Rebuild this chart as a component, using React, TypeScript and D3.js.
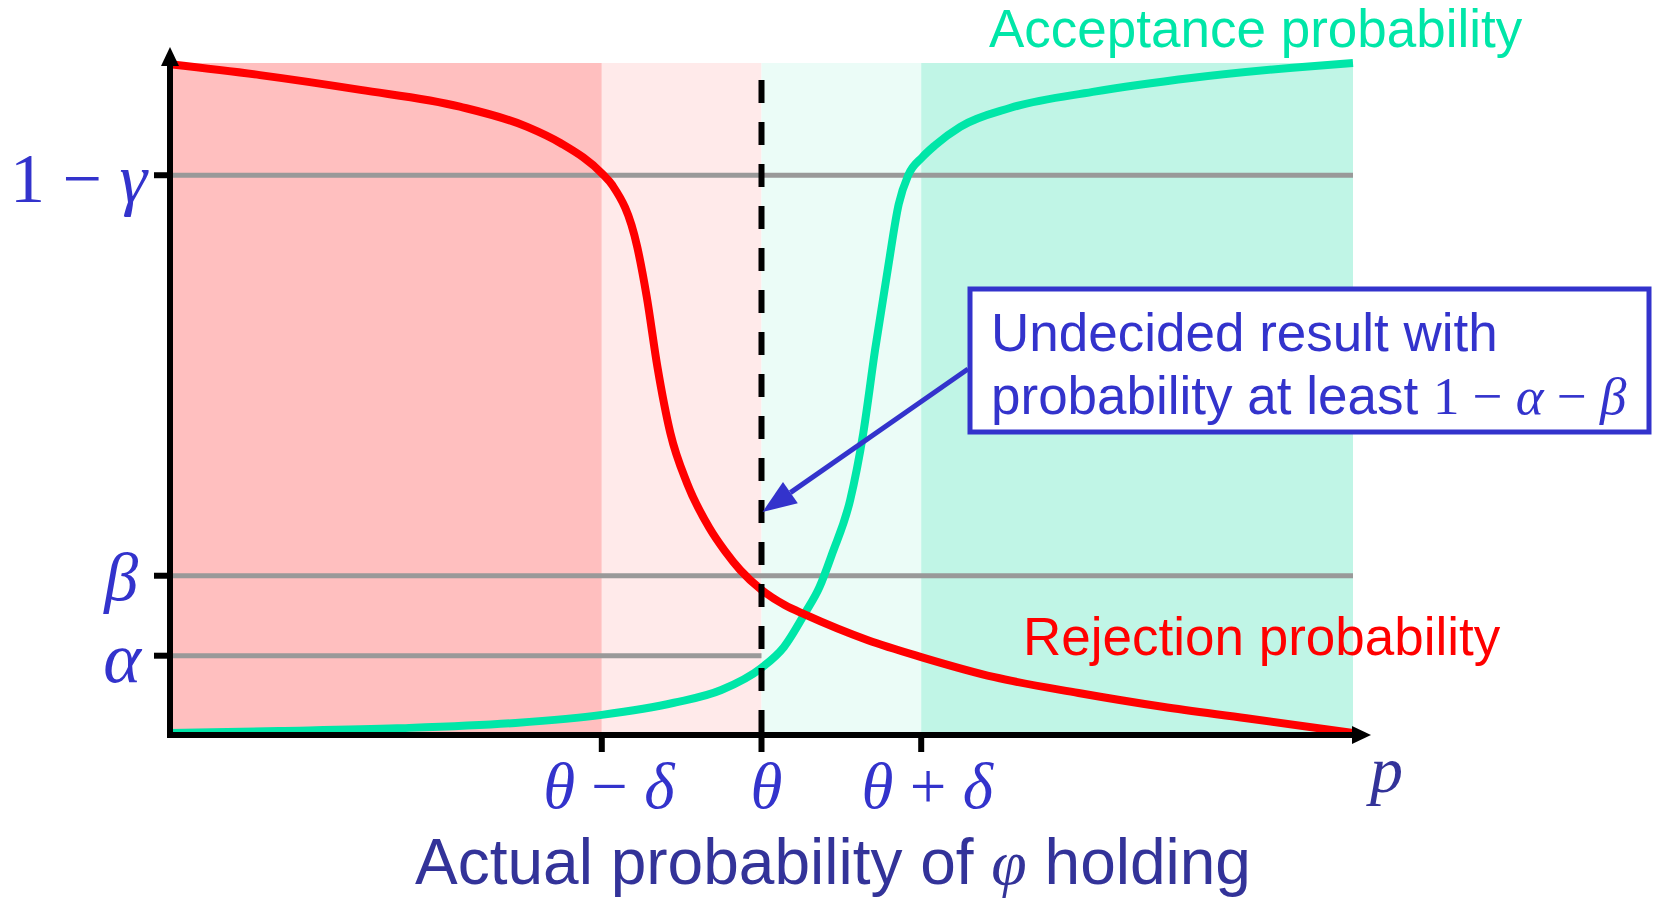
import React from "react";
import * as d3 from "d3";

// thresholds (probability units)
const theta = 0.5;
const delta = 0.135;
const oneMinusGamma = 0.833;
const beta = 0.237;
const alpha = 0.118;

// rejection probability curve: [p, probability]
const rejection: [number, number][] = [
  [0, 0.998], [0.076, 0.982], [0.161, 0.96], [0.245, 0.935], [0.302, 0.905],
  [0.33, 0.881], [0.366, 0.834], [0.374, 0.818], [0.395, 0.726], [0.403, 0.652],
  [0.412, 0.548], [0.423, 0.449], [0.437, 0.375], [0.456, 0.308], [0.469, 0.274],
  [0.482, 0.2455], [0.5, 0.216], [0.52, 0.193], [0.537, 0.179], [0.59, 0.141],
  [0.635, 0.116], [0.697, 0.086], [0.768, 0.0625], [0.839, 0.042], [0.91, 0.025],
  [1, 0.003],
];

// acceptance probability curve
const acceptance: [number, number][] = [
  [0, 0.003], [0.092, 0.006], [0.192, 0.01], [0.292, 0.018], [0.365, 0.03],
  [0.426, 0.048], [0.466, 0.067], [0.5, 0.1], [0.519, 0.131], [0.537, 0.182],
  [0.549, 0.22], [0.56, 0.271], [0.575, 0.35], [0.586, 0.449], [0.596, 0.573],
  [0.607, 0.696], [0.616, 0.79], [0.624, 0.833], [0.636, 0.86], [0.647, 0.878],
  [0.668, 0.905], [0.71, 0.933], [0.78, 0.957], [0.865, 0.978], [0.949, 0.993],
  [1, 1.0],
];

const regionEdges = [0, theta - delta, theta, theta + delta, 1];
const regionFills = ["#ffbfbf", "#ffeaea", "#ebfcf7", "#c0f5e6"];

const BLUE = "#3333cc";
const NAVY = "#333399";
const RED = "#ff0000";
const GREEN = "#00e6a8";
const SANS = "'Liberation Sans', Arial, sans-serif";
const SERIF = "'Liberation Serif', 'Times New Roman', serif";

export default function App() {
  const width = 1653;
  const height = 900;
  const x = d3.scaleLinear().domain([0, 1]).range([170, 1353]);
  const y = d3.scaleLinear().domain([0, 1]).range([735, 63]);

  const line = d3
    .line<[number, number]>()
    .x((d) => x(d[0]))
    .y((d) => y(d[1]))
    .curve(d3.curveMonotoneX);

  const x0 = x(0);
  const yAxisY = y(0);

  // arrow from the box to the dashed line
  const tip: [number, number] = [x(theta) + 1, 512];
  const start: [number, number] = [968, 369];
  const ang = Math.atan2(start[1] - tip[1], start[0] - tip[0]);
  const headLen = 34;
  const headW = 13;
  const bx = tip[0] + headLen * Math.cos(ang);
  const by = tip[1] + headLen * Math.sin(ang);
  const head = [
    tip,
    [bx + headW * Math.sin(ang), by - headW * Math.cos(ang)],
    [bx - headW * Math.sin(ang), by + headW * Math.cos(ang)],
  ];

  return (
    <svg
      width={width}
      height={height}
      style={{ position: "absolute", left: 0, top: 0, background: "#fff" }}
    >
      {/* shaded regions */}
      {regionFills.map((f, i) => (
        <rect
          key={i}
          x={x(regionEdges[i])}
          y={y(1)}
          width={x(regionEdges[i + 1]) - x(regionEdges[i])}
          height={y(0) - y(1)}
          fill={f}
        />
      ))}

      {/* threshold lines */}
      <line x1={x0} x2={x(1)} y1={y(oneMinusGamma)} y2={y(oneMinusGamma)} stroke="#999" strokeWidth={5} />
      <line x1={x0} x2={x(1)} y1={y(beta)} y2={y(beta)} stroke="#999" strokeWidth={5} />
      <line x1={x0} x2={x(theta)} y1={y(alpha)} y2={y(alpha)} stroke="#999" strokeWidth={5} />

      {/* curves */}
      <path d={line(acceptance) || ""} fill="none" stroke={GREEN} strokeWidth={8} />
      <path d={line(rejection) || ""} fill="none" stroke={RED} strokeWidth={8} />

      {/* theta dashed line */}
      <line
        x1={x(theta)}
        x2={x(theta)}
        y1={80}
        y2={yAxisY}
        stroke="#000"
        strokeWidth={6}
        strokeDasharray="23 19"
      />

      {/* axes */}
      <line x1={x0} x2={x0} y1={yAxisY + 3} y2={60} stroke="#000" strokeWidth={6} />
      <path d={`M${x0 - 9},66 L${x0},47 L${x0 + 9},66 Z`} fill="#000" />
      <line x1={x0 - 3} x2={1355} y1={yAxisY} y2={yAxisY} stroke="#000" strokeWidth={6} />
      <path d={`M1352,${yAxisY - 9} L1371,${yAxisY} L1352,${yAxisY + 9} Z`} fill="#000" />

      {/* y ticks */}
      {[oneMinusGamma, beta, alpha].map((v, i) => (
        <line key={i} x1={154} x2={x0} y1={y(v)} y2={y(v)} stroke="#000" strokeWidth={6} />
      ))}
      {/* x ticks */}
      {[theta - delta, theta, theta + delta].map((v, i) => (
        <line key={i} x1={x(v)} x2={x(v)} y1={yAxisY} y2={752} stroke="#000" strokeWidth={6} />
      ))}

      {/* y tick labels */}
      <text x={147} y={202} fontFamily={SERIF} fontSize={70} fill={BLUE} textAnchor="end">
        <tspan>1 − </tspan>
        <tspan fontStyle="italic">γ</tspan>
      </text>
      <text x={138} y={600} fontFamily={SERIF} fontSize={68} fill={BLUE} textAnchor="end" fontStyle="italic">
        β
      </text>
      <text x={141} y={682} fontFamily={SERIF} fontSize={72} fill={BLUE} textAnchor="end" fontStyle="italic">
        α
      </text>

      {/* x tick labels */}
      <text x={x(theta - delta) + 7} y={808} fontFamily={SERIF} fontSize={65} fill={BLUE} textAnchor="middle">
        <tspan fontStyle="italic">θ</tspan>
        <tspan> − </tspan>
        <tspan fontStyle="italic">δ</tspan>
      </text>
      <text x={x(theta) + 5} y={808} fontFamily={SERIF} fontSize={65} fill={BLUE} textAnchor="middle" fontStyle="italic">
        θ
      </text>
      <text x={x(theta + delta) + 6} y={808} fontFamily={SERIF} fontSize={65} fill={BLUE} textAnchor="middle">
        <tspan fontStyle="italic">θ</tspan>
        <tspan> + </tspan>
        <tspan fontStyle="italic">δ</tspan>
      </text>
      <text x={1370} y={792} fontFamily={SERIF} fontSize={66} fill={NAVY} fontStyle="italic">
        p
      </text>

      {/* axis title */}
      <text x={833} y={884} fontFamily={SANS} fontSize={64} fill={NAVY} textAnchor="middle">
        <tspan>Actual probability of </tspan>
        <tspan fontFamily={SERIF} fontStyle="italic">φ</tspan>
        <tspan> holding</tspan>
      </text>

      {/* curve labels */}
      <text x={989} y={47} fontFamily={SANS} fontSize={53} fill={GREEN}>
        Acceptance probability
      </text>
      <text x={1023} y={655} fontFamily={SANS} fontSize={53} fill={RED}>
        Rejection probability
      </text>

      {/* annotation */}
      <line x1={start[0]} y1={start[1]} x2={bx} y2={by} stroke={BLUE} strokeWidth={5} />
      <polygon points={head.map((p) => p.join(",")).join(" ")} fill={BLUE} />
      <rect x={970} y={289} width={679} height={143} fill="#fff" stroke={BLUE} strokeWidth={5} />
      <text x={991} y={351} fontFamily={SANS} fontSize={53} fill={BLUE}>
        Undecided result with
      </text>
      <text x={991} y={414} fontFamily={SANS} fontSize={53} fill={BLUE}>
        <tspan>probability at least </tspan>
        <tspan fontFamily={SERIF}>1 − </tspan>
        <tspan fontFamily={SERIF} fontStyle="italic">α</tspan>
        <tspan fontFamily={SERIF}> − </tspan>
        <tspan fontFamily={SERIF} fontStyle="italic">β</tspan>
      </text>
    </svg>
  );
}
